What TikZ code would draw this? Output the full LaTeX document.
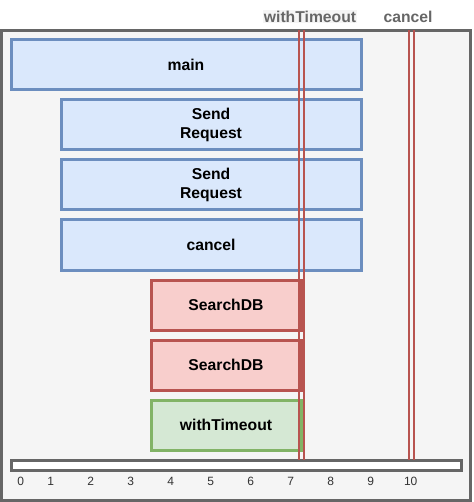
\documentclass[tikz,border=0pt]{standalone}
\usepackage{fontspec}
\setmainfont{Liberation Sans}
\definecolor{frameline}{HTML}{666666}
\definecolor{framefill}{HTML}{F5F5F5}
\definecolor{blueline}{HTML}{6C8EBF}
\definecolor{bluefill}{HTML}{DAE8FC}
\definecolor{redline}{HTML}{B85450}
\definecolor{redfill}{HTML}{F8CECC}
\definecolor{greenline}{HTML}{82B366}
\definecolor{greenfill}{HTML}{D5E8D4}
\definecolor{ticktext}{HTML}{333333}
\begin{document}
\begin{tikzpicture}[x=1pt,y=-1pt,
  task/.style={rectangle, line width=3pt, inner sep=0pt, align=center,
    font=\fontsize{15.7}{18.2}\selectfont\bfseries, text=black},
  bluetask/.style={task, draw=blueline, fill=bluefill},
  redtask/.style={task, draw=redline, fill=redfill},
  greentask/.style={task, draw=greenline, fill=greenfill},
  marker/.style={draw=redline, line width=2pt},
  toplabel/.style={font=\fontsize{15.7}{18}\selectfont\bfseries, text=frameline, inner sep=1pt},
  tick/.style={font=\fontsize{12}{14}\selectfont, text=ticktext, inner sep=0pt, anchor=base}]
  \useasboundingbox (0,0) rectangle (473,502);
  % outer frame
  \draw[frameline, fill=framefill, line width=3pt] (1.5,30.5) rectangle (470.5,500.5);
  % tasks
  \node[bluetask, minimum width=350pt, minimum height=50pt] (main) at (186,65) {main};
  \node[bluetask, minimum width=300pt, minimum height=50pt] (send1) at (211,125) {Send\\Request};
  \node[bluetask, minimum width=300pt, minimum height=50pt] (send2) at (211,185) {Send\\Request};
  \node[bluetask, minimum width=300pt, minimum height=50pt] (cancelbox) at (211,245) {cancel};
  \node[redtask, minimum width=150pt, minimum height=50pt] (search1) at (226,305) {SearchDB};
  \node[redtask, minimum width=150pt, minimum height=50pt] (search2) at (226,365) {SearchDB};
  \node[greentask, minimum width=150pt, minimum height=50pt] (timeoutbox) at (226,425) {withTimeout};
  % time axis
  \node[rectangle, draw=frameline, fill=white, line width=3pt, inner sep=0pt,
    minimum width=450pt, minimum height=9.5pt] (axis) at (236.5,465.5) {};
  \node[tick] (t0) at (20.7,485.2) {0};
  \foreach \n in {1,...,10} {
    \node[tick] (t\n) at ({10.7+40*\n},485.2) {\n};
  }
  % time markers
  \node[toplabel, fill=framefill] (lbltimeout) at (310,16.5) {withTimeout};
  \node[toplabel] (lblcancel) at (408,16.5) {cancel};
  \coordinate (wa1) at (298.5,30); \coordinate (wb1) at (298.5,460);
  \coordinate (wa2) at (303.5,30); \coordinate (wb2) at (303.5,460);
  \coordinate (ca1) at (408.7,30); \coordinate (cb1) at (408.7,460);
  \coordinate (ca2) at (413.7,30); \coordinate (cb2) at (413.7,460);
  \draw[marker] (wa1) -- (wb1);
  \draw[marker] (wa2) -- (wb2);
  \draw[marker] (ca1) -- (cb1);
  \draw[marker] (ca2) -- (cb2);
\end{tikzpicture}
\end{document}
